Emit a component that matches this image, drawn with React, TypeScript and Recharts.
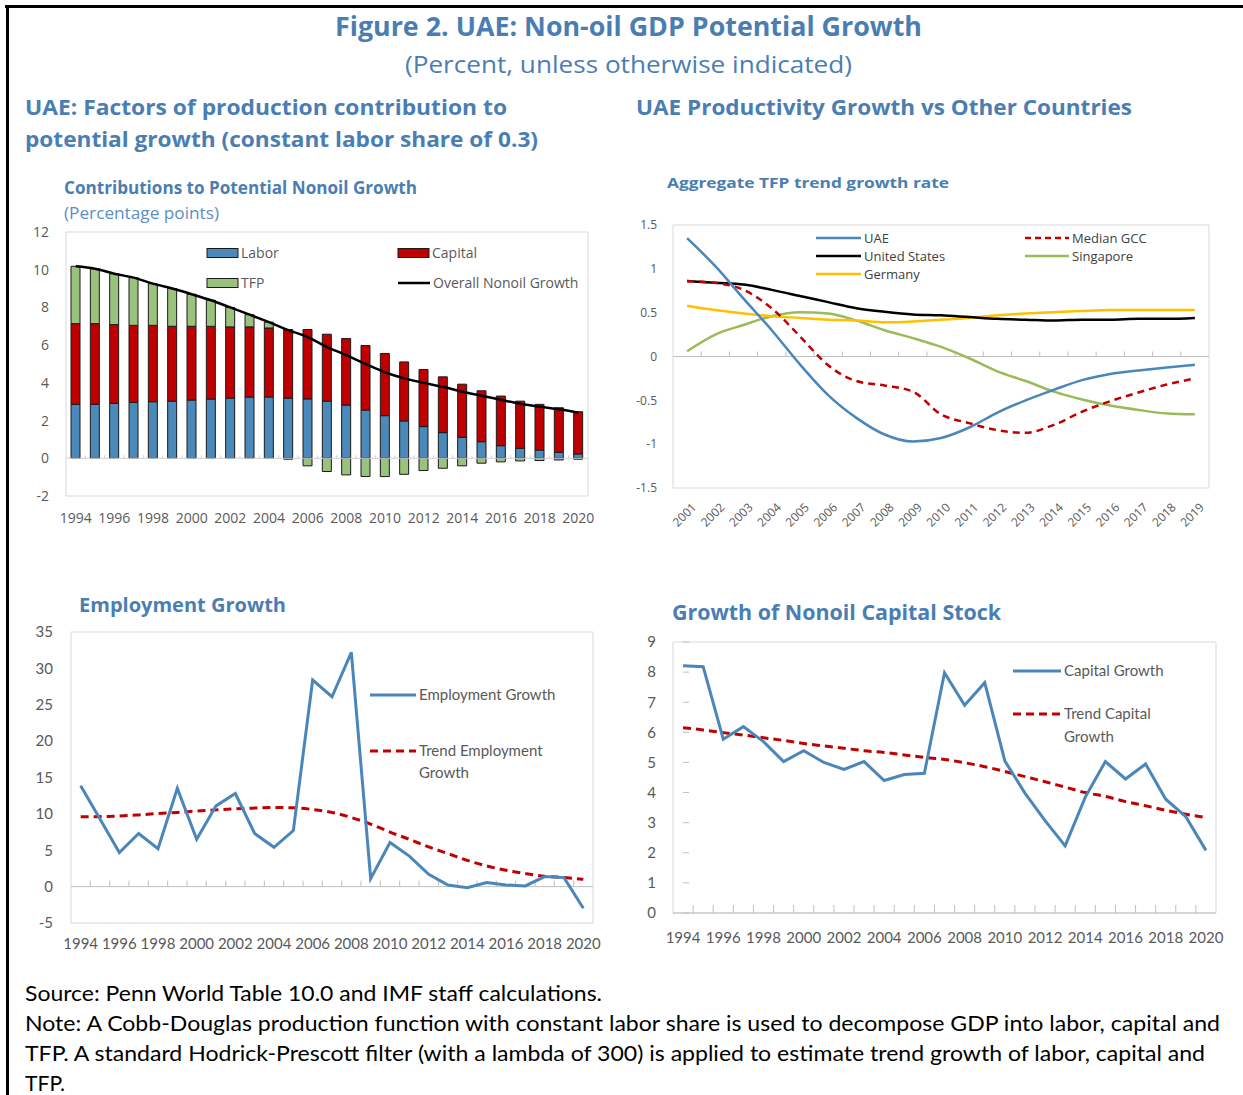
import React from 'react';
import { ComposedChart, Bar, Line, XAxis, YAxis, ReferenceLine, ReferenceArea } from 'recharts';

// ---------- Data ----------
const years = ['1994','1995','1996','1997','1998','1999','2000','2001','2002','2003','2004','2005','2006','2007','2008','2009','2010','2011','2012','2013','2014','2015','2016','2017','2018','2019','2020'];

// Contributions to potential nonoil growth (percentage points)
const laborContribution = [2.86, 2.86, 2.91, 2.96, 3.0, 3.03, 3.09, 3.14, 3.19, 3.25, 3.25, 3.19, 3.15, 3.03, 2.82, 2.56, 2.26, 1.98, 1.68, 1.36, 1.11, 0.88, 0.67, 0.53, 0.44, 0.32, 0.23];
const capitalContribution = [4.28, 4.28, 4.18, 4.09, 4.05, 3.97, 3.91, 3.86, 3.78, 3.72, 3.66, 3.64, 3.68, 3.55, 3.53, 3.42, 3.30, 3.13, 3.03, 2.96, 2.82, 2.70, 2.63, 2.50, 2.42, 2.36, 2.24];
const tfpContribution = [3.04, 2.91, 2.70, 2.53, 2.21, 2.0, 1.70, 1.38, 1.03, 0.65, 0.31, -0.05, -0.40, -0.70, -0.88, -0.97, -0.97, -0.85, -0.65, -0.53, -0.40, -0.26, -0.19, -0.14, -0.12, -0.09, -0.05];
const overallGrowth = [10.18, 10.05, 9.79, 9.58, 9.26, 9.0, 8.7, 8.38, 8.0, 7.62, 7.22, 6.8, 6.43, 5.9, 5.47, 5.0, 4.56, 4.24, 4.0, 3.79, 3.53, 3.32, 3.1, 2.89, 2.74, 2.6, 2.42];

// Aggregate TFP trend growth rate
const tfpYears = ['2001','2002','2003','2004','2005','2006','2007','2008','2009','2010','2011','2012','2013','2014','2015','2016','2017','2018','2019'];
const tfpUAE = [1.35, 1.03, 0.66, 0.30, -0.09, -0.44, -0.70, -0.89, -0.97, -0.93, -0.81, -0.64, -0.50, -0.38, -0.27, -0.20, -0.16, -0.125, -0.095];
const tfpMedianGCC = [0.86, 0.84, 0.76, 0.55, 0.23, -0.10, -0.28, -0.33, -0.40, -0.66, -0.76, -0.84, -0.87, -0.78, -0.63, -0.51, -0.41, -0.32, -0.25];
const tfpUS = [0.86, 0.84, 0.82, 0.76, 0.69, 0.62, 0.55, 0.51, 0.48, 0.47, 0.45, 0.43, 0.42, 0.41, 0.42, 0.42, 0.43, 0.43, 0.44];
const tfpSingapore = [0.06, 0.25, 0.36, 0.46, 0.505, 0.49, 0.41, 0.30, 0.21, 0.11, -0.02, -0.17, -0.28, -0.40, -0.49, -0.56, -0.61, -0.65, -0.66];
const tfpGermany = [0.58, 0.53, 0.49, 0.46, 0.44, 0.42, 0.41, 0.39, 0.40, 0.42, 0.44, 0.47, 0.49, 0.505, 0.52, 0.53, 0.53, 0.53, 0.53];

// Employment growth
const employmentGrowth = [13.85, 9.3, 4.68, 7.3, 5.2, 13.5, 6.5, 11.1, 12.8, 7.3, 5.4, 7.7, 28.4, 26.1, 32.2, 1.1, 6.06, 4.2, 1.7, 0.23, -0.14, 0.55, 0.23, 0.1, 1.38, 1.24, -2.98];
const trendEmployment = [9.6, 9.63, 9.7, 9.86, 10.05, 10.2, 10.4, 10.55, 10.7, 10.8, 10.87, 10.83, 10.6, 10.2, 9.5, 8.6, 7.5, 6.5, 5.46, 4.54, 3.6, 2.84, 2.25, 1.8, 1.42, 1.24, 1.0];

// Growth of nonoil capital stock
const capitalGrowth = [8.21, 8.18, 5.77, 6.19, 5.69, 5.03, 5.39, 5.0, 4.77, 5.03, 4.4, 4.6, 4.64, 7.98, 6.9, 7.65, 5.05, 3.98, 3.07, 2.23, 3.85, 5.03, 4.45, 4.95, 3.78, 3.2, 2.08];
const trendCapital = [6.15, 6.08, 5.99, 5.91, 5.82, 5.73, 5.63, 5.55, 5.47, 5.39, 5.33, 5.25, 5.17, 5.1, 4.99, 4.86, 4.7, 4.53, 4.36, 4.18, 4.0, 3.87, 3.7, 3.56, 3.41, 3.28, 3.17];

// Tick labels
const contribTicks = [-2, 0, 2, 4, 6, 8, 10, 12];
const tfpTicks = [-1.5, -1, -0.5, 0, 0.5, 1, 1.5];
const employmentTicks = [-5, 0, 5, 10, 15, 20, 25, 30, 35];
const capitalTicks = [0, 1, 2, 3, 4, 5, 6, 7, 8, 9];

// ---------- Styles ----------
const BLUE_TITLE = '#4A7EB3';
const LABOR_C = '#4A89BA';
const CAPITAL_C = '#C00000';
const TFP_C = '#9BC27C';
const LINE_BLUE = '#4A86BA';
const RED = '#C00000';
const GREEN = '#9BBB59';
const YELLOW = '#FFC000';
const AXIS_TEXT = '#595959';
const BORDER = '#d9d9d9';
const OPEN = "'Open Sans', 'Noto Sans', sans-serif";
const LATO = "Lato, 'Open Sans', sans-serif";

const contribData = years.map((y, i) => ({ year: y, labor: laborContribution[i], capital: capitalContribution[i], tfp: tfpContribution[i], overall: overallGrowth[i] }));
const tfpData = tfpYears.map((y, i) => ({ year: y, uae: tfpUAE[i], gcc: tfpMedianGCC[i], us: tfpUS[i], sg: tfpSingapore[i], de: tfpGermany[i] }));
const empData = years.map((y, i) => ({ year: y, emp: employmentGrowth[i], trend: trendEmployment[i] }));
const capData = years.map((y, i) => ({ year: y, cap: capitalGrowth[i], trend: trendCapital[i] }));

const zeroAxis = (n: number, tickLen: number, color: string) => (props: any) => {
  const x1 = Number(props.x1), x2 = Number(props.x2), y = Number(props.y1);
  if (!isFinite(x1) || !isFinite(x2) || !isFinite(y)) return <g />;
  const step = (x2 - x1) / n;
  return (
    <g>
      <line x1={x1} y1={y} x2={x2} y2={y} stroke={color} strokeWidth={1} />
      {Array.from({ length: n - 1 }, (_, i) => {
        const x = x1 + (i + 1) * step;
        return <line key={i} x1={x} x2={x} y1={y} y2={y - tickLen} stroke={color} strokeWidth={1} />;
      })}
    </g>
  );
};

// inward tick marks on the left edge (value axis), drawn from a vertical reference line
const leftTicks = (vals: number[], domain: [number, number], len: number, color: string) => (props: any) => {
  const x = Number(props.x1), yA = Number(props.y1), yB = Number(props.y2);
  if (!isFinite(x) || !isFinite(yA) || !isFinite(yB)) return <g />;
  const top = Math.min(yA, yB), bottom = Math.max(yA, yB);
  return (
    <g>
      {vals.map((v, i) => {
        const y = bottom - ((v - domain[0]) / (domain[1] - domain[0])) * (bottom - top);
        return <line key={i} x1={x} x2={x + len} y1={y} y2={y} stroke={color} strokeWidth={1} />;
      })}
    </g>
  );
};

type LegendSpec = { x: number; y: number; kind: 'bar' | 'line'; color: string; dash?: string; sw?: number; w: number; lines: string[]; fs: number; fill: string; lh?: number; family: string };

const LegendItem = ({ s }: { s: LegendSpec }) => (
  <g>
    {s.kind === 'bar' ? (
      <rect x={s.x} y={s.y - 4.5} width={s.w} height={9} fill={s.color} stroke="#1a1a1a" strokeWidth={1} />
    ) : (
      <line x1={s.x} x2={s.x + s.w} y1={s.y} y2={s.y} stroke={s.color} strokeWidth={s.sw ?? 2.5} strokeDasharray={s.dash} />
    )}
    {s.lines.map((t, i) => (
      <text key={i} x={s.x + s.w + 3} y={s.y + i * (s.lh ?? 22)} dy="0.35em" fontSize={s.fs} fill={s.fill} fontFamily={s.family}>{t}</text>
    ))}
  </g>
);

const legends: LegendSpec[] = [
  { x: 207, y: 253, kind: 'bar', color: LABOR_C, w: 31, lines: ['Labor'], fs: 14, fill: AXIS_TEXT, family: OPEN },
  { x: 398, y: 253, kind: 'bar', color: CAPITAL_C, w: 31, lines: ['Capital'], fs: 14, fill: AXIS_TEXT, family: OPEN },
  { x: 207, y: 283, kind: 'bar', color: TFP_C, w: 31, lines: ['TFP'], fs: 14, fill: AXIS_TEXT, family: OPEN },
  { x: 398, y: 283, kind: 'line', color: '#000', w: 32, lines: ['Overall Nonoil Growth'], fs: 14, fill: AXIS_TEXT, family: OPEN },
  { x: 816, y: 238, kind: 'line', color: LINE_BLUE, w: 45, lines: ['UAE'], fs: 13, fill: '#404040', family: OPEN },
  { x: 816, y: 256, kind: 'line', color: '#000', w: 45, lines: ['United States'], fs: 13, fill: '#404040', family: OPEN },
  { x: 816, y: 274, kind: 'line', color: YELLOW, w: 45, lines: ['Germany'], fs: 13, fill: '#404040', family: OPEN },
  { x: 1025, y: 238, kind: 'line', color: RED, dash: '6 4', w: 44, lines: ['Median GCC'], fs: 13, fill: '#404040', family: OPEN },
  { x: 1025, y: 256, kind: 'line', color: GREEN, w: 44, lines: ['Singapore'], fs: 13, fill: '#404040', family: OPEN },
  { x: 370, y: 695, kind: 'line', color: LINE_BLUE, sw: 3, w: 46, lines: ['Employment Growth'], fs: 15, fill: AXIS_TEXT, family: LATO },
  { x: 370, y: 751, kind: 'line', color: RED, sw: 3, dash: '8 5', w: 46, lines: ['Trend Employment', 'Growth'], fs: 15, fill: AXIS_TEXT, family: LATO },
  { x: 1013, y: 671, kind: 'line', color: LINE_BLUE, sw: 3, w: 48, lines: ['Capital Growth'], fs: 15, fill: AXIS_TEXT, family: LATO },
  { x: 1013, y: 714, kind: 'line', color: RED, sw: 3, dash: '8 5', w: 48, lines: ['Trend Capital', 'Growth'], fs: 15, fill: AXIS_TEXT, family: LATO, lh: 23 },
];

type TextSpec = { t: string; x: number; y: number; w: number; fs: number; bold?: boolean; fill: string; family: string };
const texts: TextSpec[] = [
  { t: 'Figure 2. UAE: Non-oil GDP Potential Growth', x: 335, y: 36, w: 587, fs: 26, bold: true, fill: BLUE_TITLE, family: OPEN },
  { t: '(Percent, unless otherwise indicated)', x: 405, y: 73, w: 447, fs: 24, fill: BLUE_TITLE, family: OPEN },
  { t: 'UAE: Factors of production contribution to', x: 25, y: 115, w: 482, fs: 22, bold: true, fill: BLUE_TITLE, family: OPEN },
  { t: 'potential growth (constant labor share of 0.3)', x: 25, y: 147, w: 513, fs: 22, bold: true, fill: BLUE_TITLE, family: OPEN },
  { t: 'UAE Productivity Growth vs Other Countries', x: 636, y: 115, w: 496, fs: 22, bold: true, fill: BLUE_TITLE, family: OPEN },
  { t: 'Contributions to Potential Nonoil Growth', x: 64, y: 194, w: 353, fs: 17, bold: true, fill: BLUE_TITLE, family: OPEN },
  { t: '(Percentage points)', x: 64, y: 219, w: 155, fs: 16, fill: '#5B8FC4', family: OPEN },
  { t: 'Aggregate TFP trend growth rate', x: 667, y: 188, w: 282, fs: 15, bold: true, fill: BLUE_TITLE, family: OPEN },
  { t: 'Employment Growth', x: 79, y: 612, w: 207, fs: 20, bold: true, fill: BLUE_TITLE, family: OPEN },
  { t: 'Growth of Nonoil Capital Stock', x: 672, y: 620, w: 329, fs: 21, bold: true, fill: BLUE_TITLE, family: OPEN },
  { t: 'Source: Penn World Table 10.0 and IMF staff calculations.', x: 25, y: 1001, w: 577, fs: 21, fill: '#000', family: LATO },
  { t: 'Note: A Cobb-Douglas production function with constant labor share is used to decompose GDP into labor, capital and', x: 25, y: 1031, w: 1195, fs: 21, fill: '#000', family: LATO },
  { t: 'TFP. A standard Hodrick-Prescott filter (with a lambda of 300) is applied to estimate trend growth of labor, capital and', x: 25, y: 1061, w: 1180, fs: 21, fill: '#000', family: LATO },
  { t: 'TFP.', x: 25, y: 1091, w: 40, fs: 21, fill: '#000', family: LATO },
];

const tickStyle = (fs: number, family: string) => ({ fontSize: fs, fill: AXIS_TEXT, fontFamily: family });

export default function App() {
  const firstYear = years[0];
  const lastYear = years[years.length - 1];
  const firstTfp = tfpYears[0];
  const lastTfp = tfpYears[tfpYears.length - 1];
  return (
    <div style={{ position: 'absolute', left: 0, top: 0, width: 1243, height: 1095, background: '#fff', overflow: 'hidden' }}>
      <div style={{ position: 'absolute', left: 5, top: 5, width: 1238, height: 3, background: '#000' }} />
      <div style={{ position: 'absolute', left: 6, top: 5, width: 3, height: 1090, background: '#000' }} />

      {/* Chart 1: contributions */}
      <div style={{ position: 'absolute', left: 20, top: 222 }}>
        <ComposedChart width={580} height={310} data={contribData} stackOffset="sign" margin={{ top: 10, right: 12, left: 10, bottom: 6 }}>
          <XAxis dataKey="year" interval={1} axisLine={false} tickLine={false} tickSize={0} tickMargin={17} height={30} tick={tickStyle(14, OPEN)} />
          <YAxis domain={[-2, 12]} ticks={contribTicks} width={36} axisLine={false} tickLine={false} tickSize={0} tickMargin={17} tick={tickStyle(14, OPEN)} />
          <ReferenceArea x1={firstYear} x2={lastYear} y1={-2} y2={12} fill="none" fillOpacity={0} stroke={BORDER} strokeWidth={1} />
          <ReferenceLine y={0} shape={zeroAxis(years.length, 3, '#cfcfcf')} />
          <Bar dataKey="labor" stackId="s" fill={LABOR_C} stroke="#1a1a1a" strokeWidth={1} barSize={9} isAnimationActive={false} />
          <Bar dataKey="capital" stackId="s" fill={CAPITAL_C} stroke="#1a1a1a" strokeWidth={1} barSize={9} isAnimationActive={false} />
          <Bar dataKey="tfp" stackId="s" fill={TFP_C} stroke="#1a1a1a" strokeWidth={1} barSize={9} isAnimationActive={false} />
          <Line dataKey="overall" type="monotone" stroke="#000" strokeWidth={2.5} dot={false} isAnimationActive={false} />
        </ComposedChart>
      </div>

      {/* Chart 2: TFP trend */}
      <div style={{ position: 'absolute', left: 620, top: 215 }}>
        <ComposedChart width={600} height={330} data={tfpData} margin={{ top: 10, right: 11, left: 10, bottom: 7 }}>
          <XAxis dataKey="year" scale="band" interval={0} axisLine={false} tickLine={false} tickSize={0} tickMargin={14} height={50}
            tick={{ ...tickStyle(12, OPEN), angle: -45, textAnchor: 'end', verticalAnchor: 'middle', dx: 4 } as any} />
          <YAxis domain={[-1.5, 1.5]} ticks={tfpTicks} width={43} axisLine={false} tickLine={false} tickSize={0} tickMargin={16} tick={tickStyle(12, OPEN)} />
          <ReferenceArea x1={firstTfp} x2={lastTfp} y1={-1.5} y2={1.5} fill="none" fillOpacity={0} stroke={BORDER} strokeWidth={1} />
          <ReferenceLine y={0} shape={zeroAxis(tfpYears.length, 5, '#bfbfbf')} />
          <Line dataKey="sg" type="monotone" stroke={GREEN} strokeWidth={2.5} dot={false} isAnimationActive={false} />
          <Line dataKey="de" type="monotone" stroke={YELLOW} strokeWidth={2.5} dot={false} isAnimationActive={false} />
          <Line dataKey="us" type="monotone" stroke="#000" strokeWidth={2.5} dot={false} isAnimationActive={false} />
          <Line dataKey="gcc" type="monotone" stroke={RED} strokeWidth={2.5} strokeDasharray="7 5" dot={false} isAnimationActive={false} />
          <Line dataKey="uae" type="monotone" stroke={LINE_BLUE} strokeWidth={2.5} dot={false} isAnimationActive={false} />
        </ComposedChart>
      </div>

      {/* Chart 3: employment growth */}
      <div style={{ position: 'absolute', left: 20, top: 622 }}>
        <ComposedChart width={590} height={340} data={empData} margin={{ top: 10, right: 17, left: 10, bottom: 6 }}>
          <XAxis dataKey="year" scale="band" interval={1} axisLine={false} tickLine={false} tickSize={0} tickMargin={15} height={33} tick={tickStyle(15, LATO)} />
          <YAxis domain={[-5, 35]} ticks={employmentTicks} width={41} axisLine={false} tickLine={false} tickSize={0} tickMargin={18} tick={tickStyle(15, LATO)} />
          <ReferenceArea x1={firstYear} x2={lastYear} y1={-5} y2={35} fill="none" fillOpacity={0} stroke={BORDER} strokeWidth={1} />
          <ReferenceLine y={0} shape={zeroAxis(years.length, 6, '#bfbfbf')} />
          <Line dataKey="trend" type="monotone" stroke={RED} strokeWidth={3} strokeDasharray="8 5" dot={false} isAnimationActive={false} />
          <Line dataKey="emp" type="linear" stroke={LINE_BLUE} strokeWidth={3} dot={false} isAnimationActive={false} />
        </ComposedChart>
      </div>

      {/* Chart 4: capital stock growth */}
      <div style={{ position: 'absolute', left: 630, top: 632 }}>
        <ComposedChart width={600} height={320} data={capData} margin={{ top: 10, right: 14, left: 10, bottom: 6 }}>
          <XAxis dataKey="year" scale="band" interval={1} axisLine={false} tickLine={false} tickSize={0} tickMargin={19} height={33} tick={tickStyle(15, LATO)} />
          <YAxis domain={[0, 9]} ticks={capitalTicks} width={33} axisLine={false} tickLine={false} tickSize={0} tickMargin={17} tick={tickStyle(15, LATO)} />
          <ReferenceArea x1={firstYear} x2={lastYear} y1={0} y2={9} fill="none" fillOpacity={0} stroke={BORDER} strokeWidth={1} />
          <ReferenceLine segment={[{ x: firstYear, y: 0 }, { x: firstYear, y: 9 }]} ifOverflow="visible"
            shape={leftTicks(capitalTicks, [0, 9], 6, '#bfbfbf')} />
          <ReferenceLine y={0} shape={zeroAxis(years.length, 8, '#bfbfbf')} />
          <Line dataKey="trend" type="monotone" stroke={RED} strokeWidth={3} strokeDasharray="8 5" dot={false} isAnimationActive={false} />
          <Line dataKey="cap" type="linear" stroke={LINE_BLUE} strokeWidth={3} dot={false} isAnimationActive={false} />
        </ComposedChart>
      </div>

      <svg width={1243} height={1095} style={{ position: 'absolute', left: 0, top: 0, pointerEvents: 'none' }}>
        {texts.map((s, i) => (
          <text key={i} x={s.x} y={s.y} fontSize={s.fs} fontWeight={s.bold ? 700 : 400} fill={s.fill} fontFamily={s.family}
            textLength={s.w} lengthAdjust="spacingAndGlyphs">{s.t}</text>
        ))}
        {legends.map((s, i) => <LegendItem key={i} s={s} />)}
      </svg>
    </div>
  );
}
